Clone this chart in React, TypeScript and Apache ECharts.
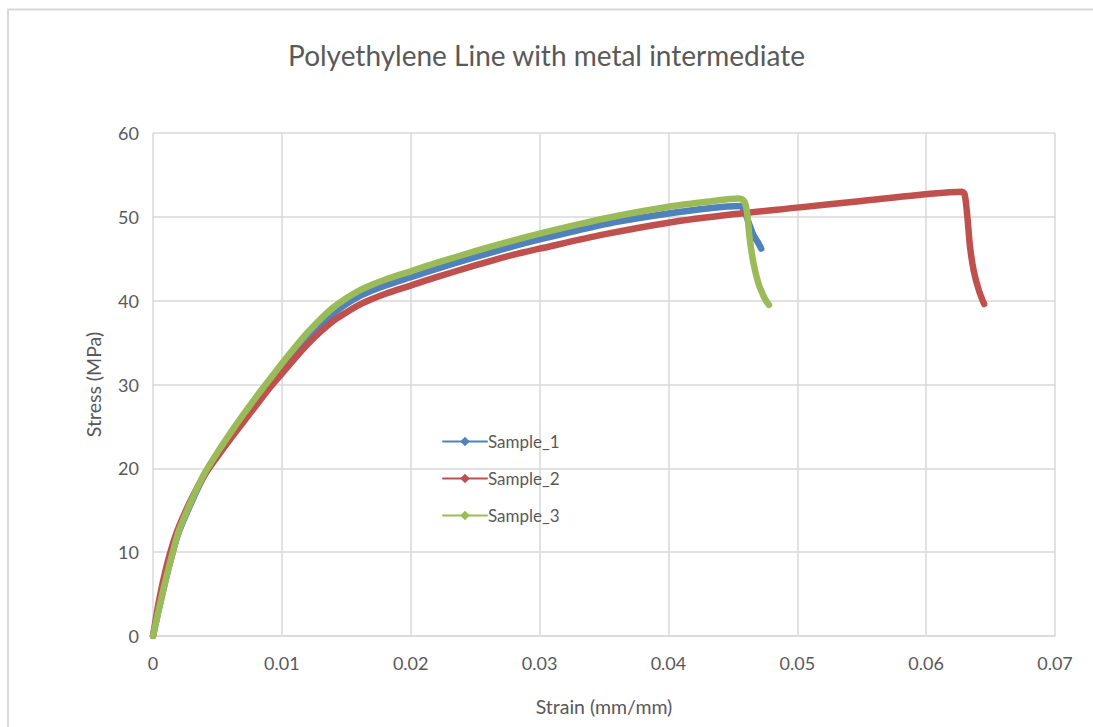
import React, { useEffect, useRef } from "react";
import * as echarts from "echarts";

const seriesNames = ["Sample_1", "Sample_2", "Sample_3"];
const seriesColors = ["#4F81BD", "#C0504D", "#9BBB59"];

const sample1: [number, number][] = [
  [0, 0], [0.0005, 3.5], [0.001, 6.8], [0.0015, 9.8], [0.002, 12.4], [0.003, 16], [0.004, 19.2],
  [0.005, 21.6], [0.006, 23.8], [0.007, 26], [0.008, 28.1], [0.009, 30.1], [0.01, 32],
  [0.011, 33.8], [0.012, 35.6], [0.013, 37.1], [0.014, 38.5], [0.015, 39.6], [0.016, 40.5],
  [0.017, 41.2], [0.018, 41.8], [0.02, 42.8], [0.022, 43.8], [0.025, 45.2], [0.028, 46.5],
  [0.03, 47.3], [0.033, 48.4], [0.036, 49.4], [0.04, 50.4], [0.043, 51], [0.0455, 51.3],
  [0.0458, 51], [0.046, 50.3], [0.0463, 49], [0.0466, 47.8], [0.047, 46.8], [0.0472, 46.2],
];

const sample2: [number, number][] = [
  [0, 0], [0.0005, 4.5], [0.001, 8], [0.0015, 10.8], [0.002, 13], [0.003, 16.4], [0.004, 19.2],
  [0.005, 21.4], [0.006, 23.5], [0.007, 25.5], [0.008, 27.5], [0.009, 29.5], [0.01, 31.3],
  [0.011, 33.1], [0.012, 34.8], [0.013, 36.3], [0.014, 37.6], [0.015, 38.6], [0.016, 39.5],
  [0.017, 40.2], [0.018, 40.8], [0.02, 41.8], [0.022, 42.8], [0.025, 44.2], [0.028, 45.5],
  [0.03, 46.2], [0.035, 47.9], [0.04, 49.3], [0.045, 50.3], [0.05, 51.1], [0.055, 51.9],
  [0.06, 52.7], [0.0628, 53], [0.063, 52.6], [0.0632, 50], [0.0634, 46.5], [0.0637, 43.5],
  [0.0641, 41.2], [0.0645, 39.6],
];

const sample3: [number, number][] = [
  [0, 0], [0.0005, 3.5], [0.001, 6.8], [0.0015, 9.8], [0.002, 12.5], [0.003, 16.2], [0.004, 19.4],
  [0.005, 21.9], [0.006, 24.2], [0.007, 26.4], [0.008, 28.5], [0.009, 30.5], [0.01, 32.5],
  [0.011, 34.4], [0.012, 36.2], [0.013, 37.8], [0.014, 39.2], [0.015, 40.3], [0.016, 41.2],
  [0.017, 41.9], [0.018, 42.5], [0.02, 43.5], [0.022, 44.5], [0.025, 45.9], [0.028, 47.2],
  [0.03, 48], [0.033, 49.1], [0.036, 50.1], [0.04, 51.2], [0.043, 51.8], [0.0455, 52.2],
  [0.0459, 51.8], [0.0461, 50.5], [0.0463, 47.5], [0.0466, 44.5], [0.047, 42], [0.0475, 40.2],
  [0.0478, 39.5],
];

const seriesData = [sample1, sample2, sample3];

const xTicks = { min: 0, max: 0.07, interval: 0.01 };
const yTicks = { min: 0, max: 60, interval: 10 };

export default function App() {
  const ref = useRef<HTMLDivElement>(null);
  useEffect(() => {
    if (!ref.current) return;
    const chart = echarts.init(ref.current, undefined, { renderer: "svg" });
    const font = "Lato, 'Open Sans', sans-serif";
    chart.setOption({
      animation: false,
      backgroundColor: "#ffffff",
      textStyle: { fontFamily: font },
      graphic: [
        {
          type: "rect",
          shape: { x: 8, y: 9.5, width: 1100, height: 730 },
          style: { fill: "none", stroke: "#d9d9d9", lineWidth: 2 },
          silent: true,
        },
      ],
      title: {
        text: "Polyethylene Line with metal intermediate",
        left: "center",
        top: 36,
        textStyle: { fontSize: 28, fontWeight: "normal", color: "#595959", fontFamily: font },
      },
      legend: {
        orient: "vertical",
        left: 437,
        top: 428,
        itemWidth: 44,
        itemHeight: 12,
        itemGap: 20,
        data: seriesNames,
        textStyle: { fontSize: 17, color: "#595959", fontFamily: font, padding: [0, 0, 0, -4] },
      },
      grid: { left: 153, top: 133, right: 38, bottom: 91 },
      xAxis: {
        type: "value",
        min: xTicks.min,
        max: xTicks.max,
        interval: xTicks.interval,
        name: "Strain (mm/mm)",
        nameLocation: "middle",
        nameGap: 60,
        nameTextStyle: { fontSize: 19.5, color: "#595959", fontFamily: font },
        axisLine: { show: true, lineStyle: { color: "#d9d9d9", width: 1.5 } },
        axisTick: { show: false },
        axisLabel: {
          fontSize: 18,
          color: "#595959",
          margin: 18,
          fontFamily: font,
          formatter: (v: number) => (v === 0 ? "0" : String(Number(v.toFixed(2)))),
        },
        splitLine: { show: true, lineStyle: { color: "#d9d9d9", width: 1.5 } },
      },
      yAxis: {
        type: "value",
        min: yTicks.min,
        max: yTicks.max,
        interval: yTicks.interval,
        name: "Stress (MPa)",
        nameLocation: "middle",
        nameGap: 50,
        nameTextStyle: { fontSize: 19.5, color: "#595959", fontFamily: font },
        axisLine: { show: false },
        axisTick: { show: false },
        axisLabel: { fontSize: 18, color: "#595959", margin: 14, fontFamily: font },
        splitLine: { show: true, lineStyle: { color: "#d9d9d9", width: 1.5 } },
      },
      series: seriesNames.map((name, i) => ({
        name,
        type: "line",
        data: seriesData[i],
        smooth: 0.3,
        symbol: "diamond",
        symbolSize: 5,
        showSymbol: false,
        color: seriesColors[i],
        lineStyle: { width: 6.5, color: seriesColors[i], cap: "round", join: "round" },
        z: 2 + i,
      })),
    });
    return () => chart.dispose();
  }, []);
  return (
    <div
      ref={ref}
      style={{ position: "fixed", left: 0, top: 0, width: 1093, height: 727 }}
    />
  );
}
